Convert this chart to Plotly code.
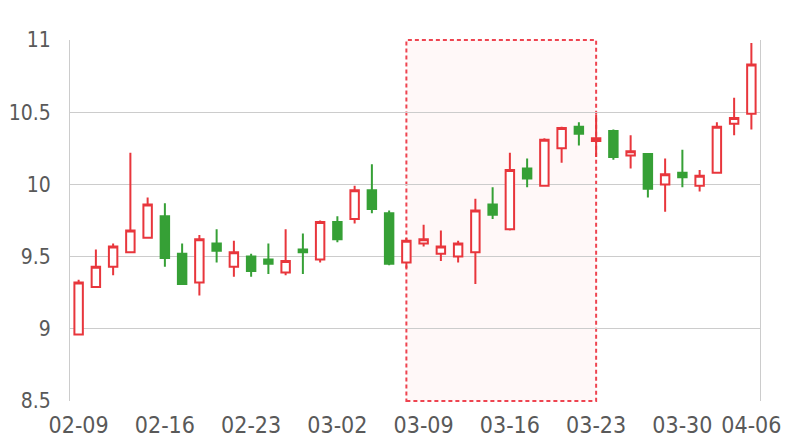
import plotly.graph_objects as go

dates = ["02-09", "02-10", "02-11", "02-12", "02-13",
         "02-16", "02-17", "02-18", "02-19", "02-20",
         "02-23", "02-24", "02-25", "02-26", "02-27",
         "03-02", "03-03", "03-04", "03-05", "03-06",
         "03-09", "03-10", "03-11", "03-12", "03-13",
         "03-16", "03-17", "03-18", "03-19", "03-20",
         "03-23", "03-24", "03-25", "03-26", "03-27",
         "03-30", "03-31", "04-01", "04-02", "04-06"]

open_ = [8.96, 9.29, 9.43, 9.53, 9.63, 9.78, 9.52, 9.32, 9.59, 9.43,
         9.50, 9.48, 9.39, 9.55, 9.48, 9.74, 9.76, 9.96, 9.80, 9.46,
         9.59, 9.52, 9.50, 9.53, 9.86, 9.69, 10.11, 9.99, 10.25, 10.40,
         10.30, 10.37, 10.20, 10.21, 10.00, 10.08, 9.99, 10.08, 10.42, 10.49]
close = [9.32, 9.43, 9.57, 9.68, 9.86, 9.49, 9.31, 9.62, 9.54, 9.53,
         9.40, 9.45, 9.47, 9.53, 9.74, 9.62, 9.96, 9.83, 9.45, 9.61,
         9.62, 9.57, 9.59, 9.82, 9.79, 10.10, 10.04, 10.31, 10.39, 10.35,
         10.32, 10.19, 10.23, 9.97, 10.07, 10.05, 10.06, 10.40, 10.46, 10.83]
high = [9.34, 9.55, 9.59, 10.22, 9.91, 9.87, 9.59, 9.65, 9.69, 9.61,
        9.52, 9.59, 9.69, 9.66, 9.75, 9.78, 9.99, 10.14, 9.82, 9.63,
        9.72, 9.68, 9.61, 9.90, 9.98, 10.22, 10.18, 10.32, 10.40, 10.43,
        10.48, 10.38, 10.34, 10.21, 10.18, 10.24, 10.10, 10.43, 10.60, 10.98]
low = [8.96, 9.29, 9.37, 9.53, 9.63, 9.43, 9.31, 9.23, 9.46, 9.36,
       9.36, 9.38, 9.37, 9.38, 9.46, 9.60, 9.73, 9.80, 9.44, 9.42,
       9.57, 9.47, 9.46, 9.31, 9.76, 9.68, 9.98, 9.99, 10.15, 10.27,
       10.19, 10.17, 10.11, 9.91, 9.81, 9.98, 9.95, 10.08, 10.34, 10.38]

tick_labels = ["02-09", "02-16", "02-23", "03-02", "03-09",
               "03-16", "03-23", "03-30", "04-06"]
y_ticks = [8.5, 9, 9.5, 10, 10.5, 11]
highlight_start = "03-06"
highlight_end = "03-23"

RED = "#e8363c"
GREEN = "#36a036"
FONT = "Liberation Sans Narrow, DejaVu Sans Condensed, Open Sans, sans-serif"

fig = go.Figure(go.Candlestick(
    x=dates, open=open_, high=high, low=low, close=close,
    increasing=dict(line=dict(color=RED, width=2), fillcolor="white"),
    decreasing=dict(line=dict(color=GREEN, width=2), fillcolor=GREEN),
    whiskerwidth=0, showlegend=False,
))

fig.add_shape(type="rect", xref="x", yref="paper",
              x0=highlight_start, x1=highlight_end, y0=0, y1=1,
              line=dict(color="#ee4450", width=2, dash="4px,3px"),
              fillcolor="rgba(255,80,80,0.04)", layer="below")

fig.update_layout(
    width=792, height=432,
    margin=dict(l=62, r=40, t=32, b=39, autoexpand=False),
    paper_bgcolor="white", plot_bgcolor="white",
    font=dict(family=FONT, size=21, color="#595959"),
    xaxis=dict(type="category", tickmode="array", tickvals=tick_labels,
               ticktext=tick_labels, showgrid=False, rangeslider=dict(visible=False),
               showline=False, ticks="", tickfont=dict(size=23), automargin=False,
               ticklabelstandoff=8),
    yaxis=dict(range=[8.5, 11], tickvals=y_ticks, ticktext=[str(v) for v in y_ticks],
               showgrid=True, gridcolor="#cccccc", gridwidth=1,
               showline=True, linecolor="#cccccc", mirror=True,
               zeroline=False, ticks="", ticklabelstandoff=14, automargin=False,
               tickfont=dict(size=21)),
)

fig.write_html("out.html")
